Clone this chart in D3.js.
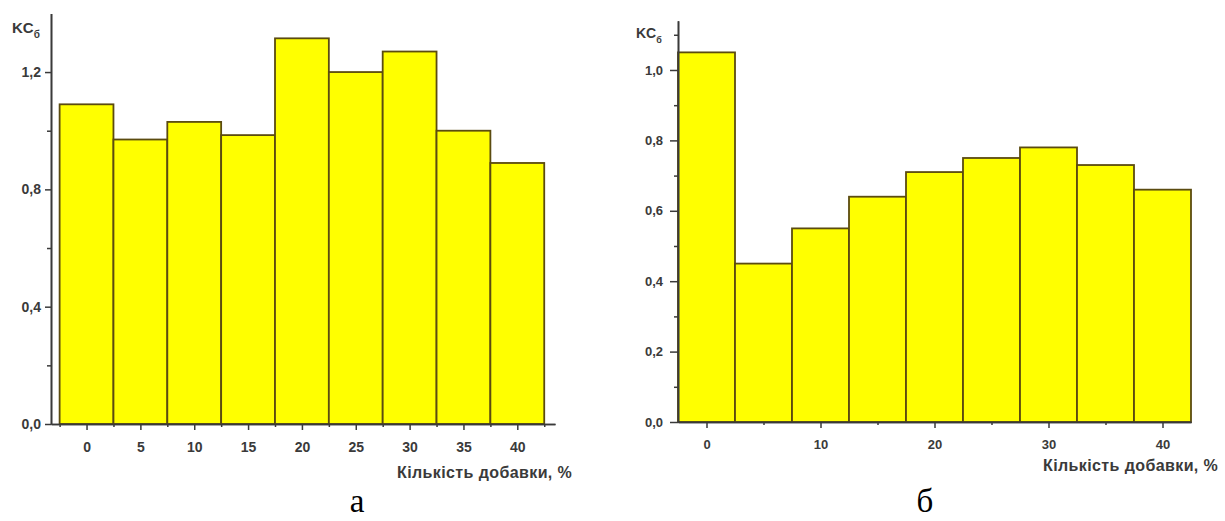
<!DOCTYPE html>
<html>
<head>
<meta charset="utf-8">
<script src="https://cdn.jsdelivr.net/npm/d3@7"></script>
<style>
  body { margin: 0; background: #fff; }
  svg { display: block; }
  .tick text { font-family: "Liberation Sans", Arial, sans-serif; font-weight: bold; fill: #3a3a3a; }
  .domain, .tick line { stroke: #3a3a3a; }
</style>
</head>
<body>
<div id="chart"></div>
<script>
// additive amount, % (bar centres)
var additiveA = [0, 5, 10, 15, 20, 25, 30, 35, 40];
var ksA = [1.09, 0.97, 1.03, 0.985, 1.315, 1.20, 1.27, 1.0, 0.89];

var additiveB = [0, 5, 10, 15, 20, 25, 30, 35, 40];
var ksB = [1.05, 0.45, 0.55, 0.64, 0.71, 0.75, 0.78, 0.73, 0.66];

var yTicksA = [0, 0.4, 0.8, 1.2];
var yMinorA = [0.2, 0.6, 1.0];
var xTicksA = [0, 5, 10, 15, 20, 25, 30, 35, 40];
var xMinorA = [-2.5, 2.5, 7.5, 12.5, 17.5, 22.5, 27.5, 32.5, 37.5, 42.5];

var yTicksB = [0, 0.2, 0.4, 0.6, 0.8, 1.0];
var yMinorB = [0.1, 0.3, 0.5, 0.7, 0.9, 1.1];
var xTicksB = [0, 10, 20, 30, 40];
var xMinorB = [5, 15, 25, 35];

var xTitle = 'Кількість добавки, %';

var svg = d3.select('#chart').append('svg')
    .attr('width', 1225)
    .attr('height', 521);

var commaFmt = function(d) { return d3.format('.1f')(d).replace('.', ','); };

function drawPanel(p) {
  var x = d3.scaleLinear().domain(p.xDomain).range(p.xRange);
  var y = d3.scaleLinear().domain(p.yDomain).range(p.yRange);
  var g = svg.append('g');

  // bars, 5 units wide, centred on the additive amount
  g.selectAll('rect.bar')
    .data(p.cats.map(function(c, i) { return {c: c, v: p.vals[i]}; }))
    .enter().append('rect')
    .attr('class', 'bar')
    .attr('x', function(d) { return x(d.c - 2.5); })
    .attr('width', function(d) { return x(d.c + 2.5) - x(d.c - 2.5); })
    .attr('y', function(d) { return y(d.v); })
    .attr('height', function(d) { return y(0) - y(d.v); })
    .attr('fill', '#ffff00')
    .attr('stroke', '#5b4b10')
    .attr('stroke-width', 1.8);

  var y0 = y(0);
  var x0 = p.xRange[0];

  // minor ticks first
  g.append('g')
    .attr('transform', 'translate(' + x0 + ',0)')
    .call(d3.axisLeft(y).tickValues(p.yMinor).tickFormat('').tickSize(4).tickSizeOuter(0));
  g.append('g')
    .attr('transform', 'translate(0,' + y0 + ')')
    .call(d3.axisBottom(x).tickValues(p.xMinor).tickFormat('').tickSize(3).tickSizeOuter(0))
    .selectAll('line').attr('stroke', p.minorColor).attr('stroke-width', 1.5);

  var ya = g.append('g')
    .attr('transform', 'translate(' + x0 + ',0)')
    .call(d3.axisLeft(y).tickValues(p.yTicks).tickFormat(commaFmt).tickSize(p.tick).tickPadding(p.yPad).tickSizeOuter(0));
  ya.selectAll('text').style('font-size', p.font + 'px');

  var xa = g.append('g')
    .attr('transform', 'translate(0,' + y0 + ')')
    .call(d3.axisBottom(x).tickValues(p.xTicks).tickFormat(d3.format('d')).tickSize(6).tickPadding(p.xPad).tickSizeOuter(0));
  xa.selectAll('text').style('font-size', p.font + 'px');

  g.selectAll('.tick line').attr('stroke-width', 1.5);
  g.selectAll('.domain').attr('stroke-width', 1.6);

  // y title KC with subscript
  var yt = g.append('text')
    .attr('x', p.yTitle[0])
    .attr('y', p.yTitle[1])
    .attr('font-family', '"Liberation Sans", Arial, sans-serif')
    .attr('font-weight', 'bold')
    .attr('font-size', p.yTitleFont)
    .attr('fill', '#3a3a3a');
  yt.append('tspan').text('KC');
  yt.append('tspan').attr('dy', 5).attr('font-size', p.yTitleFont - 5).text('б');

  g.append('text')
    .attr('x', p.xTitle[0])
    .attr('y', p.xTitle[1])
    .attr('font-family', '"Liberation Sans", Arial, sans-serif')
    .attr('font-weight', 'bold')
    .attr('font-size', 16)
    .attr('letter-spacing', 0.4)
    .attr('fill', '#3a3a3a')
    .text(xTitle);

  g.append('text')
    .attr('x', p.letter[0])
    .attr('y', p.letter[1])
    .attr('text-anchor', 'middle')
    .attr('font-family', '"Liberation Serif", "Times New Roman", serif')
    .attr('font-size', 33)
    .attr('fill', '#000')
    .text(p.letterText);
}

drawPanel({
  cats: additiveA, vals: ksA,
  xDomain: [-3.3, 43.5], xRange: [51, 555],
  yDomain: [0, 1.4], yRange: [424, 13.4],
  yTicks: yTicksA, yMinor: yMinorA, xTicks: xTicksA, xMinor: xMinorA,
  minorColor: '#1a1a6a', tick: 6, yPad: 4, font: 14, xPad: 12,
  yTitle: [12, 33], yTitleFont: 15, xTitle: [397, 478],
  letter: [357, 512], letterText: 'а'
});

drawPanel({
  cats: additiveB, vals: ksB,
  xDomain: [-2.5, 42.5], xRange: [678, 1191],
  yDomain: [0, 1.14], yRange: [422, 20.7],
  yTicks: yTicksB, yMinor: yMinorB, xTicks: xTicksB, xMinor: xMinorB,
  minorColor: '#3a3a3a', tick: 8, yPad: 7, font: 13, xPad: 12,
  yTitle: [636, 38], yTitleFont: 14, xTitle: [1043, 471],
  letter: [925, 512], letterText: 'б'
});
</script>
</body>
</html>
